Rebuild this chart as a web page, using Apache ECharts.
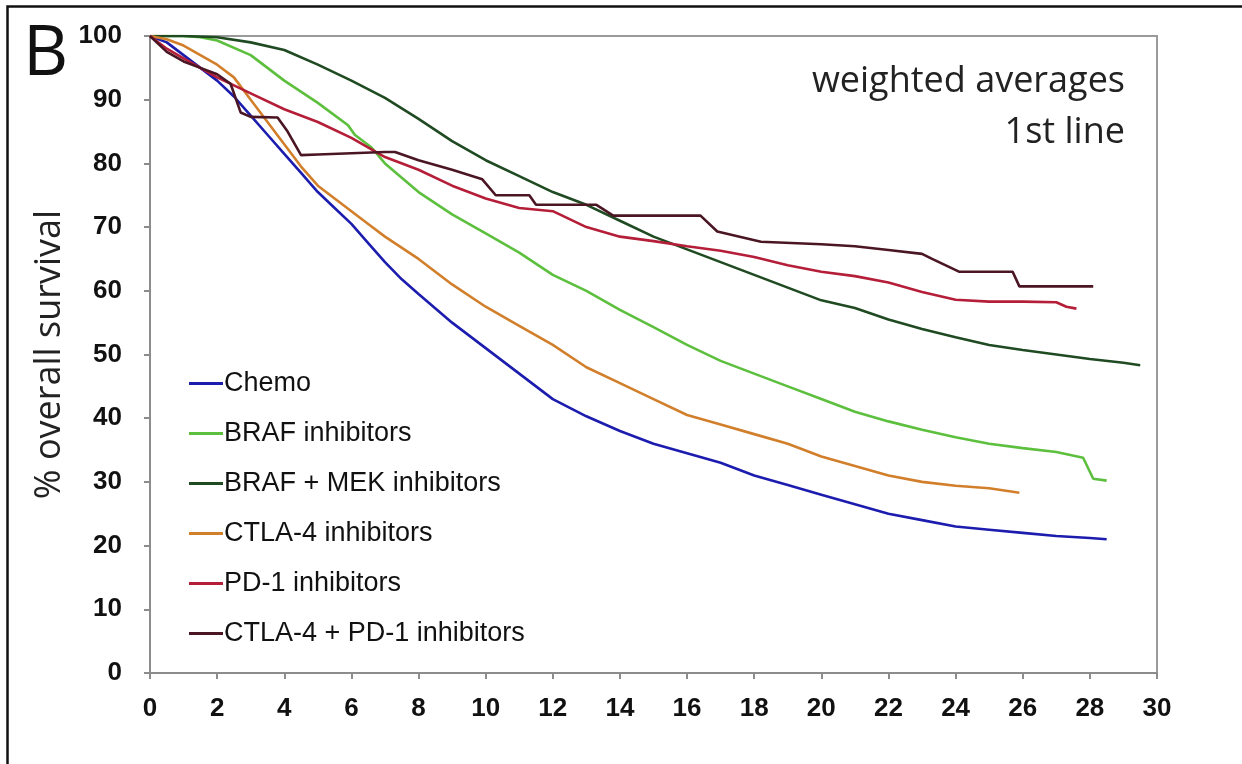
<!DOCTYPE html>
<html>
<head>
<meta charset="utf-8">
<script src="https://cdn.jsdelivr.net/npm/echarts@6/dist/echarts.min.js"></script>
<style>
html,body{margin:0;padding:0;background:#fff;}
#chart{width:1242px;height:764px;}
</style>
</head>
<body>
<div id="chart"></div>
<script>
// Series names
const seriesNames = ["Chemo", "BRAF inhibitors", "BRAF + MEK inhibitors", "CTLA-4 inhibitors", "PD-1 inhibitors", "CTLA-4 + PD-1 inhibitors"];

// [month, % overall survival]
const chemo = [[0,100],[0.5,99],[1,97],[1.5,95],[2,93],[2.5,90.5],[3,87.5],[3.5,84.5],[4,81.5],[4.5,78.5],[5,75.5],[5.5,73],[6,70.5],[6.5,67.5],[7,64.5],[7.5,61.8],[8,59.5],[9,55],[10,51],[11,47],[12,43],[13,40.3],[14,38],[15,36],[16,34.5],[17,33],[18,31],[19,29.5],[20,28],[21,26.5],[22,25],[23,24],[24,23],[25,22.5],[26,22],[27,21.5],[28,21.2],[28.5,21]];
const braf = [[0,100],[1,100],[1.5,99.8],[2,99.3],[3,97],[4,93],[5,89.5],[5.9,86],[6.1,84.5],[6.6,82.5],[7,80],[8,75.5],[9,72],[10,69],[11,66],[12,62.5],[13,60],[14,57],[15,54.3],[16,51.5],[17,49],[18,47],[19,45],[20,43],[21,41],[22,39.5],[23,38.2],[24,37],[25,36],[26,35.3],[27,34.7],[27.8,33.8],[28.1,30.5],[28.5,30.2]];
const brafMek = [[0,100],[1,100],[2,99.8],[3,99],[4,97.8],[5,95.5],[6,93],[7,90.3],[8,87],[9,83.5],[10,80.5],[11,78],[12,75.5],[13,73.5],[14,71],[15,68.5],[16,66.5],[17,64.5],[18,62.5],[19,60.5],[20,58.5],[21,57.3],[22,55.5],[23,54],[24,52.7],[25,51.5],[26,50.7],[27,50],[28,49.3],[29,48.7],[29.5,48.3]];
const ctla4 = [[0,100],[0.5,99.5],[1,98.5],[1.5,97],[2,95.5],[2.5,93.5],[3,90],[3.5,86.5],[4,83],[4.5,79.5],[5,76.5],[5.5,74.5],[6,72.5],[6.5,70.5],[7,68.5],[8,65],[9,61],[10,57.5],[11,54.5],[12,51.5],[13,48],[14,45.5],[15,43],[16,40.5],[17,39],[18,37.5],[19,36],[20,34],[21,32.5],[22,31],[23,30],[24,29.4],[25,29],[25.9,28.3]];
const pd1 = [[0,100],[0.5,98],[1,96.5],[1.5,95],[2,93.5],[3,91],[4,88.5],[5,86.5],[6,84],[7,81],[8,79],[9,76.5],[10,74.5],[11,73],[12,72.5],[13,70],[14,68.5],[15,67.8],[16,67],[17,66.3],[18,65.3],[19,64],[20,63],[21,62.3],[22,61.3],[23,59.8],[24,58.6],[25,58.3],[26,58.3],[27,58.2],[27.3,57.5],[27.6,57.2]];
const ctla4Pd1 = [[0,100],[0.5,97.5],[1,96],[1.5,95],[2,94],[2.4,92.5],[2.7,88],[3,87.3],[3.8,87.2],[4.1,85],[4.5,81.3],[5,81.4],[6,81.6],[7,81.8],[7.3,81.8],[8,80.5],[9,79],[9.9,77.5],[10.3,75],[11.3,75],[11.5,73.5],[13.3,73.5],[13.8,71.8],[16.4,71.8],[16.9,69.3],[18.2,67.7],[20,67.3],[21,67],[22,66.4],[23,65.8],[23.3,65],[24.1,63],[25.7,63],[25.9,60.7],[28.1,60.7]];

const seriesData = [chemo, braf, brafMek, ctla4, pd1, ctla4Pd1];
const colors = ["#1c1cae", "#5dbf3e", "#1f4a22", "#d27f2c", "#b51e38", "#4b1624"];

// Axis ticks
const xTicks = [0,2,4,6,8,10,12,14,16,18,20,22,24,26,28,30];
const yTicks = [0,10,20,30,40,50,60,70,80,90,100];

const chart = echarts.init(document.getElementById('chart'), null, {renderer:'canvas'});

const option = {
  backgroundColor: '#ffffff',
  animation: false,
  color: colors,
  graphic: [
    { type: 'rect', left: 5, top: 4, shape: { width: 1300, height: 800 }, style: { fill: 'none', stroke: '#111', lineWidth: 2.5 }, silent: true },
    { type: 'text', left: 23, top: 20, style: { text: 'B', font: '70px "Open Sans"', fill: '#111' } },
    { type: 'text', right: 117, top: 56, style: { text: 'weighted averages\n1st line', font: '36px "Open Sans"', fill: '#222', textAlign: 'right', lineHeight: 51 } }
  ],
  grid: { left: 150, right: 85, top: 36, bottom: 91, show: true, borderColor: '#9a9a9a', borderWidth: 2, backgroundColor: 'transparent' },
  legend: {
    orient: 'vertical', left: 184, top: 365,
    itemWidth: 34, itemHeight: 3, itemGap: 23,
    icon: 'rect',
    data: seriesNames,
    textStyle: { fontFamily: 'Liberation Sans, Arial', fontSize: 27, color: '#111', lineHeight: 27, padding: [0,0,0,-4] }
  },
  xAxis: {
    type: 'value', min: 0, max: 30, interval: 2,
    axisLine: { show: true, lineStyle: { color: '#8c8c8c', width: 2 } },
    axisTick: { show: true, length: 6, lineStyle: { color: '#8c8c8c', width: 2 } },
    splitLine: { show: false },
    axisLabel: { margin: 23, fontFamily: 'Liberation Sans, Arial', fontWeight: 'bold', fontSize: 26, color: '#111',
      formatter: v => xTicks.includes(v) ? String(v) : '' }
  },
  yAxis: {
    type: 'value', min: 0, max: 100, interval: 10,
    name: '% overall survival', nameLocation: 'middle', nameGap: 80, nameRotate: 90,
    nameTextStyle: { fontFamily: 'Open Sans', fontSize: 36, color: '#222' },
    axisLine: { show: true, lineStyle: { color: '#8c8c8c', width: 2 } },
    axisTick: { show: true, length: 6, lineStyle: { color: '#8c8c8c', width: 2 } },
    splitLine: { show: false },
    axisLabel: { margin: 28, fontFamily: 'Liberation Sans, Arial', fontWeight: 'bold', fontSize: 26, color: '#111',
      formatter: v => yTicks.includes(v) ? String(v) : '' }
  },
  series: seriesNames.map((name, i) => ({
    name: name,
    type: 'line',
    data: seriesData[i],
    showSymbol: false,
    symbol: 'none',
    lineStyle: { width: 2.6, color: colors[i] },
    itemStyle: { color: colors[i] },
    z: 3
  }))
};
chart.setOption(option);
</script>
</body>
</html>
